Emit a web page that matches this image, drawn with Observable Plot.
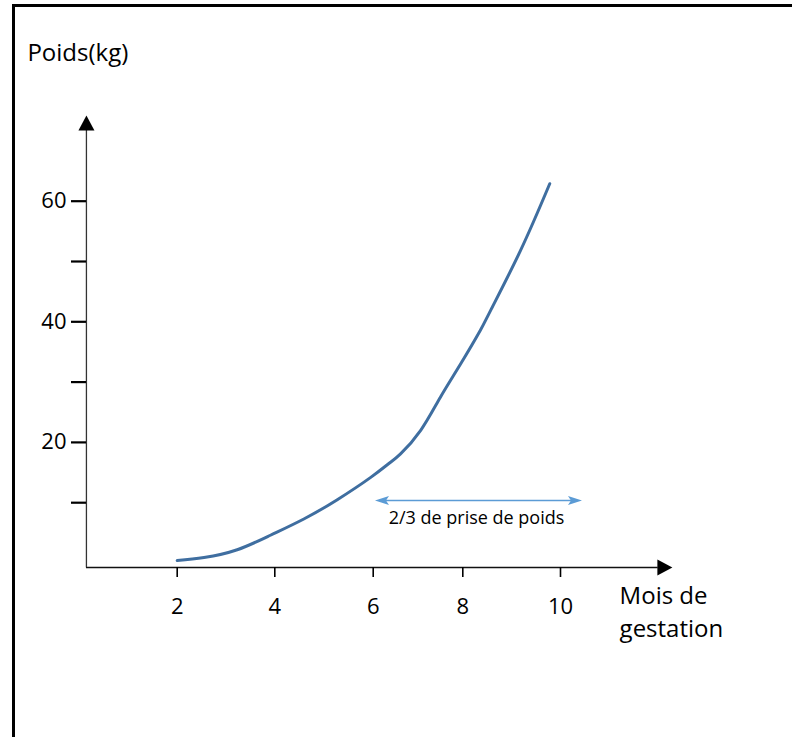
<!DOCTYPE html>
<html>
<head>
<meta charset="utf-8">
<script src="https://cdn.jsdelivr.net/npm/d3@7"></script>
<script src="https://cdn.jsdelivr.net/npm/@observablehq/plot@0.6"></script>
<style>
  html, body { margin: 0; padding: 0; background: white; }
  #wrap { position: relative; width: 792px; height: 737px; overflow: hidden; }
  #wrap svg { position: absolute; left: 0; top: 0; }
  #border { position: absolute; left: 12px; top: 4px; right: -10px; bottom: -10px;
            border-top: 3px solid #000; border-left: 3px solid #000; pointer-events: none; }
</style>
</head>
<body>
<div id="wrap"><div id="border"></div></div>
<script>
// ---- data ----
const months  = [2, 2.55, 3.23, 3.91, 4.59, 5.27, 5.95, 6.35, 6.61, 7.06, 7.5, 7.95, 8.36, 8.57, 9.18, 9.78];
const weights = [0.4, 0.9, 2.2, 4.6, 7.3, 10.5, 14.2, 16.5, 18.1, 22.0, 27.5, 33.0, 38.6, 41.9, 51.8, 62.9];

const xTicks = [2, 4, 6, 8, 10];
const xTickPixels = [176.7, 274.3, 372.7, 462.3, 560];
const yTicks = [10, 20, 30, 40, 50, 60];
const yLabelled = [20, 40, 60];

const yTitle = "Poids(kg)";
const xTitle = "Mois de\ngestation";
const annotation = "2/3 de prise de poids";
const annotationSpan = [6.04, 10.44];   // months covered by the double arrow
const annotationLevel = [10.36];        // kg level of the arrow

// axis geometry (data units)
const axisOrigin = {x: 0.14, y: -0.75};
const axisEnd = {x: 12.0, y: 72.0};
const axisTip = {x: 12.29, y: 74.2};

const data = months.map((m, i) => ({month: m, weight: weights[i]}));

// custom arrowhead symbols (tip at origin, pointing up)
const solidHead = {draw(ctx) { ctx.moveTo(0, 0); ctx.lineTo(8, 15); ctx.lineTo(-8, 15); ctx.closePath(); }};
const slimHead = {draw(ctx) { ctx.moveTo(0, 0); ctx.lineTo(4.5, 14); ctx.lineTo(0, 11); ctx.lineTo(-4.5, 14); ctx.closePath(); }};

const curveColor = "#3f6ea0";
const arrowColor = "#5b9bd5";

const chart = Plot.plot({
  width: 792,
  height: 737,
  marginLeft: 86,
  marginBottom: 170,
  marginTop: 0,
  marginRight: 0,
  style: {fontFamily: "'Open Sans', sans-serif", background: "transparent", color: "#000"},
  x: {type: "linear", domain: xTicks, range: xTickPixels, label: null},
  y: {type: "linear", domain: [0, 60], range: [562.5, 200.7], label: null},
  marks: [
    // axis lines
    Plot.ruleY([axisOrigin.y], {x1: axisOrigin.x, x2: axisEnd.x, stroke: "#111", strokeWidth: 1.6}),
    Plot.ruleX([axisOrigin.x], {y1: axisOrigin.y, y2: axisEnd.y, stroke: "#333", strokeWidth: 1.3}),
    Plot.dot([axisTip], {x: () => axisOrigin.x, y: () => axisTip.y, symbol: solidHead, fill: "#000", stroke: "none", rotate: 0}),
    Plot.dot([axisTip], {x: () => axisTip.x, y: () => axisOrigin.y, symbol: solidHead, fill: "#000", stroke: "none", rotate: 90}),
    // ticks and labels
    Plot.axisX({ticks: xTicks, tickSize: 10, tickPadding: 21, fontSize: 22, strokeWidth: 1.6, label: null}),
    Plot.axisY({ticks: yTicks, tickSize: 15, tickPadding: 5, fontSize: 22, strokeWidth: 2.2, label: null,
      tickFormat: d => yLabelled.includes(d) ? String(d) : ""}),
    // curve
    Plot.line(data, {x: "month", y: "weight", stroke: curveColor, strokeWidth: 3, curve: "natural"}),
    // annotation double arrow
    Plot.ruleY(annotationLevel, {x1: annotationSpan[0] + 0.15, x2: annotationSpan[1] - 0.15, stroke: arrowColor, strokeWidth: 1.6}),
    Plot.dot(annotationSpan, {x: d => d, y: () => annotationLevel[0], symbol: slimHead, fill: arrowColor, stroke: "none",
      rotate: (d, i) => i === 0 ? -90 : 90}),
    Plot.text([annotation], {x: () => (annotationSpan[0] + annotationSpan[1]) / 2 + 0.04, y: () => 6.5, text: d => d,
      fontSize: 18, lineAnchor: "bottom", textAnchor: "middle", fill: "#000"}),
    // titles
    Plot.text([yTitle], {x: () => -1.07, y: () => 83.33, text: d => d, fontSize: 24, textAnchor: "start", lineAnchor: "bottom", fill: "#000"}),
    Plot.text([xTitle], {x: () => 11.21, y: () => -12.27, text: d => d, fontSize: 24, textAnchor: "start", lineAnchor: "bottom", lineHeight: 1.39, fill: "#000"})
  ]
});

document.getElementById("wrap").prepend(chart);
</script>
</body>
</html>
